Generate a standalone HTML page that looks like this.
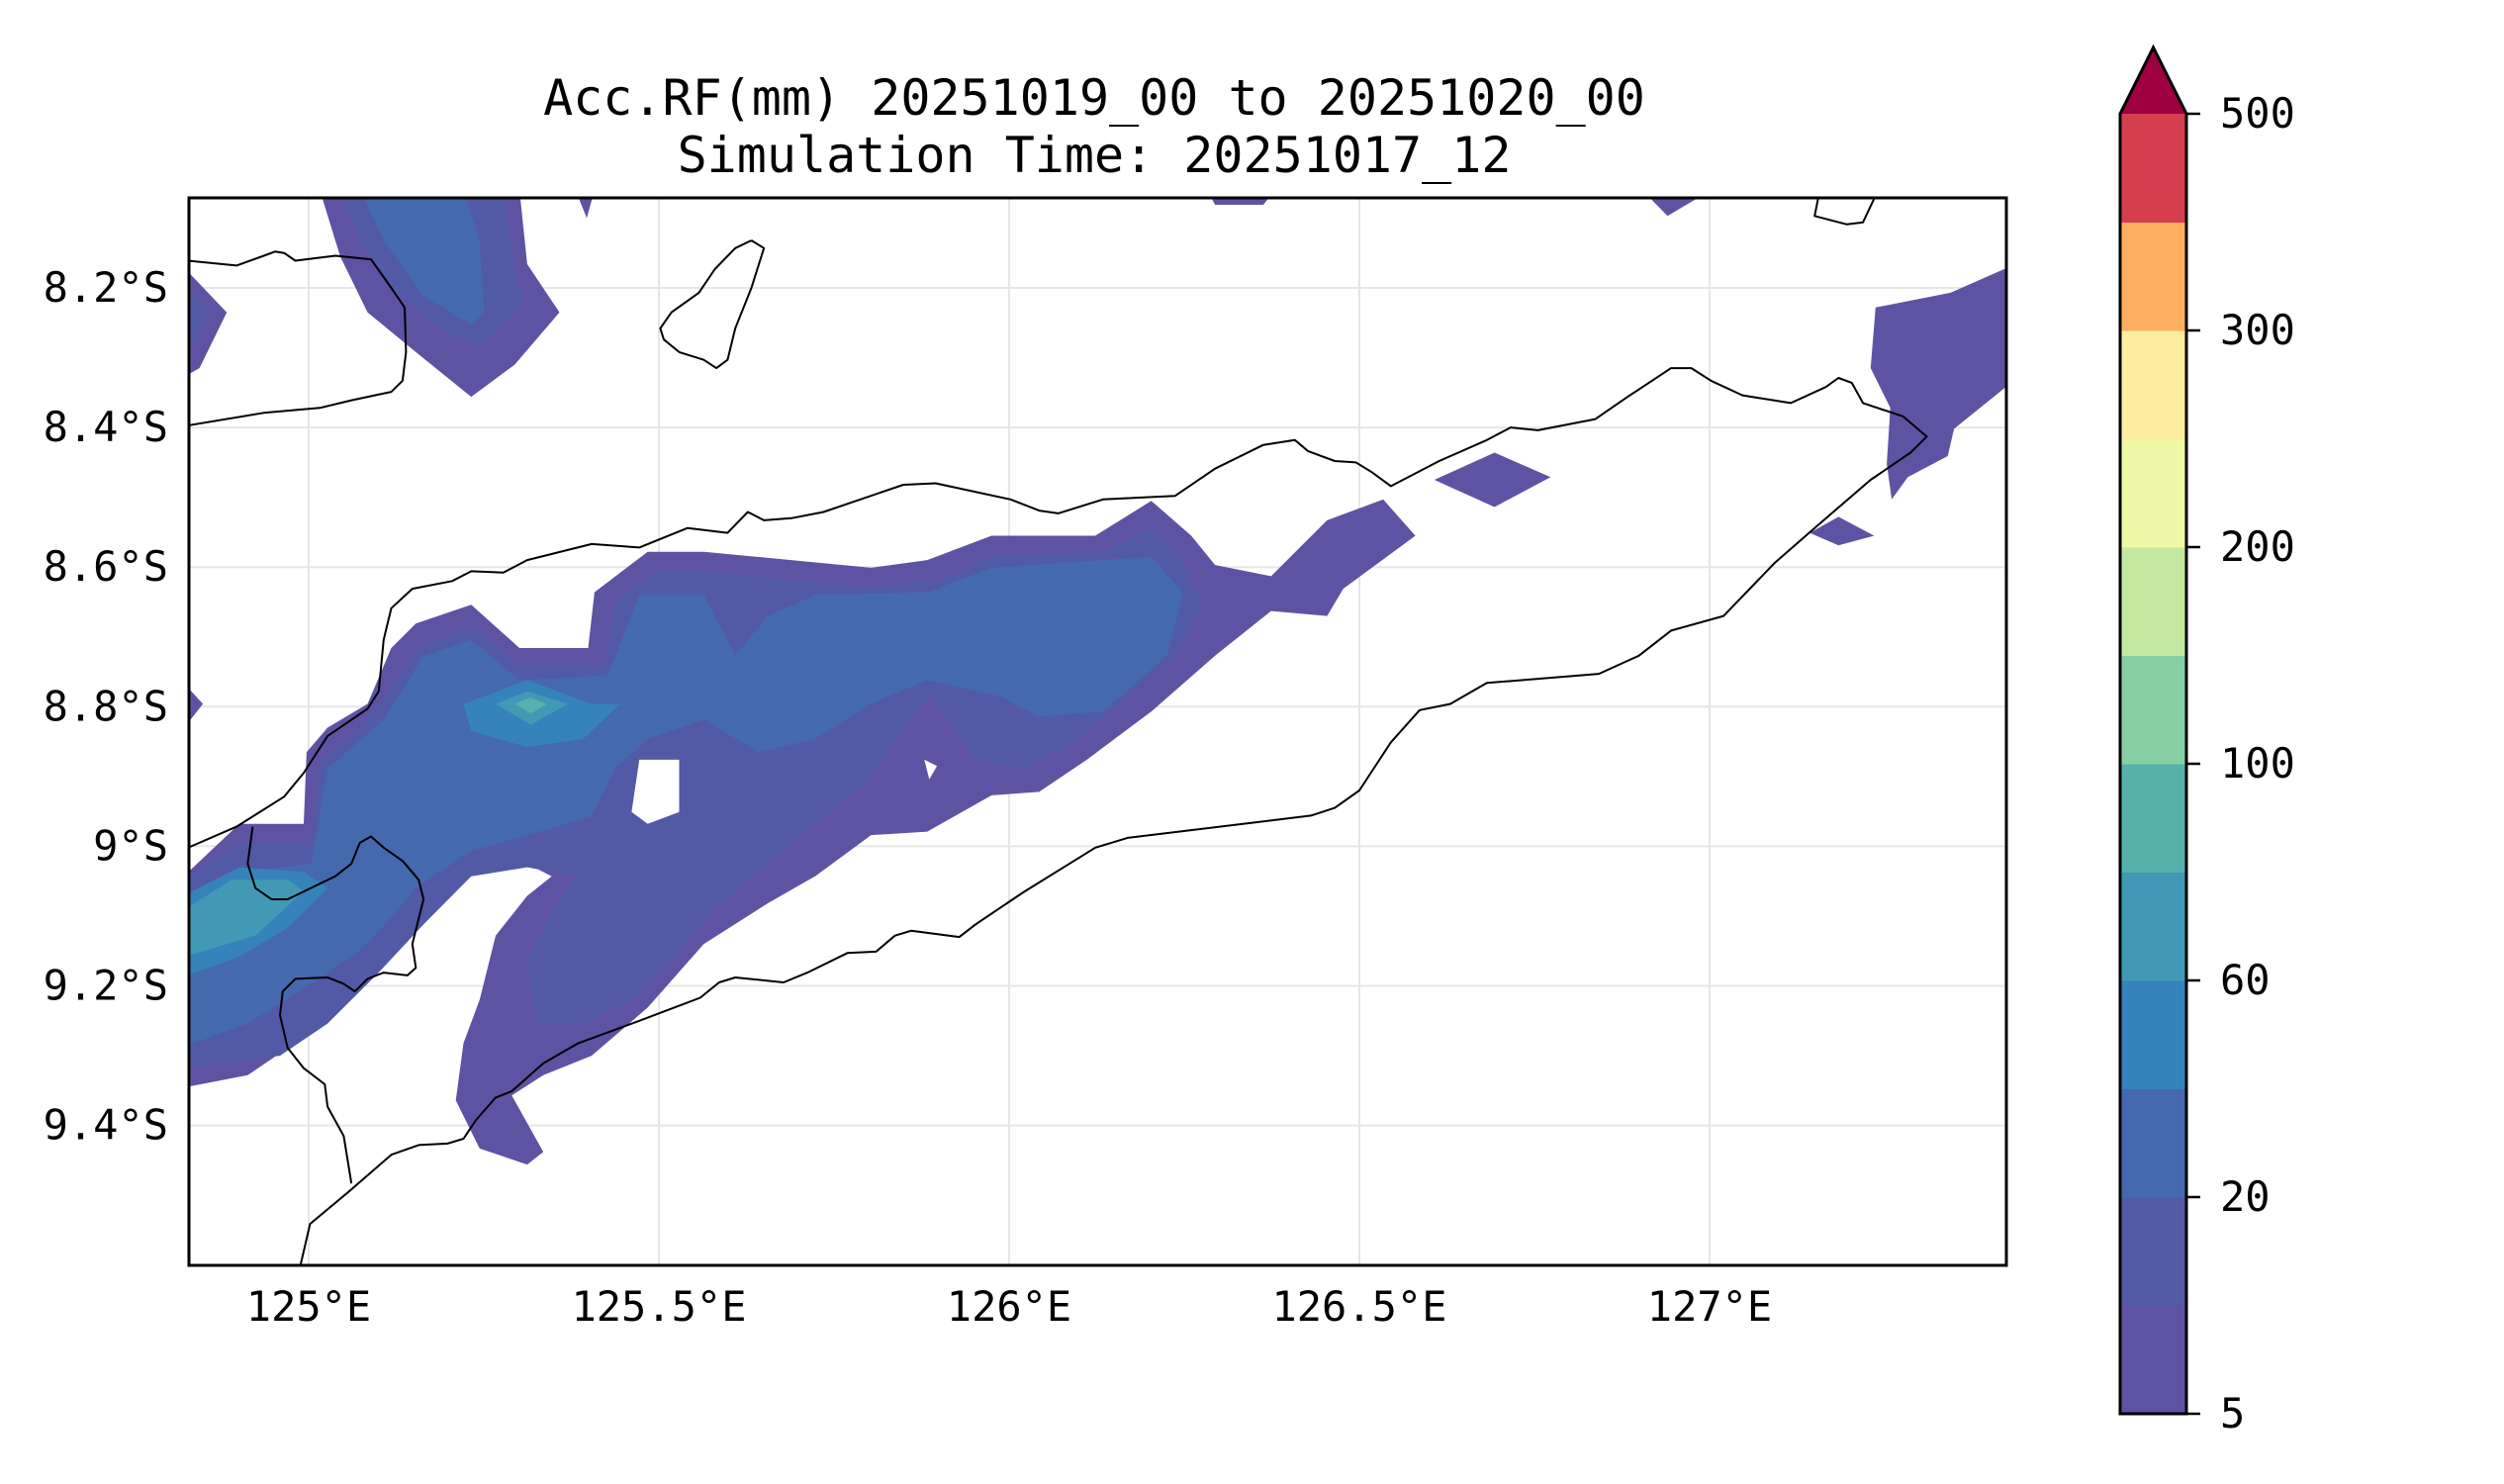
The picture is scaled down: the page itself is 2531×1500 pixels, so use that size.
<!DOCTYPE html>
<html><head><meta charset="utf-8">
<style>
html,body{margin:0;padding:0;background:#fff;}
svg{display:block;font-family:"DejaVu Sans Mono","Liberation Mono",monospace;}
</style></head>
<body>
<svg id="chart" width="2531" height="1500" viewBox="0 0 2531 1500" xmlns="http://www.w3.org/2000/svg">
<defs><clipPath id="plotclip"><rect x="191" y="200" width="1837" height="1079"/></clipPath></defs>
<text x="1106" y="116" font-size="50" text-anchor="middle">Acc.RF(mm) 20251019_00 to 20251020_00</text>
<text x="1106" y="174" font-size="50" text-anchor="middle">Simulation Time: 20251017_12</text>
<g id="grid"></g>
<g id="fills" clip-path="url(#plotclip)"></g>
<g id="coasts" clip-path="url(#plotclip)"></g>
<rect x="191" y="200" width="1837" height="1079" fill="none" stroke="#000" stroke-width="3"/>
<g id="xticks"></g>
<g id="yticks"></g>
<g id="cbar"></g>
</svg>
<script>
const lonTicks = [125, 125.5, 126, 126.5, 127];
const lonTickLabels = ["125°E","125.5°E","126°E","126.5°E","127°E"];
const latTicks = [8.2, 8.4, 8.6, 8.8, 9.0, 9.2, 9.4];
const latTickLabels = ["8.2°S","8.4°S","8.6°S","8.8°S","9°S","9.2°S","9.4°S"];
const cbarColors = ['#5e53a3','#5259a5','#4569ad','#3682ba','#4299b5','#57b0ac','#86cfa5','#c5e8a0','#eff8a6','#feeda1','#fdae61','#d53e4f'];
const cbarExtendColor = '#9e0142';
const cbarTickIndex = [0,2,4,6,8,10,12];
const cbarTickLabels = ["5","20","60","100","200","300","500"];

const level1Main = [[124.828,9.037],[124.901,8.968],[124.993,8.968],[124.997,8.865],[125.027,8.830],[125.084,8.796],[125.118,8.716],[125.153,8.681],[125.232,8.654],[125.301,8.716],[125.399,8.716],[125.408,8.636],[125.484,8.578],[125.564,8.578],[125.803,8.601],[125.883,8.590],[125.975,8.555],[126.123,8.555],[126.203,8.505],[126.260,8.555],[126.294,8.597],[126.374,8.613],[126.454,8.533],[126.534,8.503],[126.580,8.555],[126.477,8.631],[126.454,8.670],[126.374,8.663],[126.294,8.727],[126.203,8.807],[126.111,8.876],[126.043,8.922],[125.975,8.927],[125.883,8.979],[125.803,8.984],[125.723,9.043],[125.655,9.082],[125.564,9.140],[125.484,9.231],[125.404,9.300],[125.335,9.328],[125.290,9.357],[125.335,9.438],[125.312,9.456],[125.244,9.433],[125.210,9.364],[125.221,9.282],[125.244,9.220],[125.267,9.128],[125.312,9.071],[125.347,9.043],[125.312,9.025],[125.232,9.030],[125.175,9.082],[125.107,9.151],[125.050,9.208],[124.970,9.289],[124.913,9.328],[124.800,9.350],[124.800,9.040]];
const level2Main = [[124.800,9.060],[124.901,8.995],[125.004,8.995],[125.016,8.876],[125.073,8.830],[125.118,8.773],[125.157,8.716],[125.232,8.686],[125.301,8.739],[125.422,8.739],[125.438,8.647],[125.495,8.606],[125.564,8.606],[125.803,8.629],[125.906,8.617],[125.975,8.583],[126.134,8.578],[126.203,8.544],[126.248,8.590],[126.276,8.659],[126.237,8.727],[126.157,8.796],[126.089,8.853],[126.020,8.888],[125.952,8.876],[125.906,8.807],[125.883,8.785],[125.837,8.853],[125.792,8.911],[125.723,8.968],[125.655,9.025],[125.575,9.094],[125.518,9.163],[125.461,9.220],[125.392,9.254],[125.324,9.254],[125.312,9.163],[125.347,9.094],[125.381,9.043],[125.312,9.030],[125.232,9.043],[125.164,9.112],[125.096,9.185],[125.027,9.254],[124.959,9.300],[124.800,9.320]];
const level3Main = [[124.800,9.105],[124.901,9.037],[125.004,9.025],[125.027,8.888],[125.107,8.819],[125.164,8.727],[125.232,8.704],[125.301,8.762],[125.427,8.755],[125.472,8.640],[125.564,8.640],[125.609,8.727],[125.655,8.670],[125.723,8.640],[125.883,8.636],[125.975,8.601],[126.203,8.585],[126.248,8.636],[126.226,8.727],[126.134,8.807],[126.043,8.814],[125.986,8.785],[125.883,8.762],[125.803,8.796],[125.723,8.846],[125.643,8.865],[125.564,8.819],[125.484,8.846],[125.438,8.888],[125.404,8.957],[125.312,8.984],[125.232,9.007],[125.153,9.060],[125.084,9.140],[125.016,9.190],[124.913,9.254],[124.800,9.295]];
const level4A = [[125.221,8.796],[125.312,8.762],[125.404,8.796],[125.445,8.796],[125.392,8.846],[125.312,8.858],[125.232,8.835]];
const level4B = [[124.800,9.082],[124.901,9.030],[124.993,9.037],[125.027,9.060],[124.970,9.117],[124.901,9.158],[124.800,9.195]];
const level5A = [[125.267,8.796],[125.312,8.778],[125.370,8.796],[125.317,8.826]];
const level5B = [[124.800,9.105],[124.890,9.048],[124.970,9.048],[124.993,9.064],[124.924,9.128],[124.800,9.165]];
const level6A = [[125.294,8.796],[125.317,8.787],[125.340,8.796],[125.317,8.810]];
const hole1 = [[125.472,8.876],[125.529,8.876],[125.529,8.951],[125.484,8.968],[125.461,8.951]];
const hole2 = [[125.879,8.876],[125.897,8.885],[125.886,8.904]];
const tl1 = [[125.016,8.060],[125.301,8.060],[125.312,8.166],[125.358,8.235],[125.294,8.310],[125.232,8.356],[125.153,8.292],[125.084,8.235],[125.045,8.155]];
const tl2 = [[125.043,8.060],[125.278,8.060],[125.294,8.177],[125.308,8.223],[125.244,8.287],[125.187,8.258],[125.118,8.200],[125.073,8.132]];
const tl3 = [[125.073,8.060],[125.221,8.060],[125.244,8.132],[125.251,8.235],[125.232,8.253],[125.164,8.212],[125.107,8.132]];
const topSmall = [[125.381,8.060],[125.408,8.060],[125.397,8.100]];
const topMid = [[126.283,8.060],[126.379,8.060],[126.363,8.081],[126.294,8.081]];
const topRight = [[126.904,8.060],[127.002,8.060],[126.940,8.097]];
const left1 = [[124.800,8.150],[124.828,8.177],[124.883,8.235],[124.844,8.315],[124.800,8.340]];
const left1b = [[124.800,8.180],[124.830,8.200],[124.856,8.235],[124.830,8.292],[124.800,8.300]];
const left2 = [[124.800,8.760],[124.828,8.773],[124.849,8.796],[124.828,8.823],[124.800,8.835]];
const midRight = [[126.607,8.475],[126.693,8.436],[126.773,8.471],[126.693,8.514]];
const smallE = [[127.143,8.551],[127.184,8.528],[127.235,8.555],[127.184,8.569]];
const eastPatch = [[127.237,8.228],[127.344,8.207],[127.450,8.160],[127.450,8.320],[127.349,8.402],[127.340,8.441],[127.283,8.471],[127.260,8.503],[127.253,8.452],[127.258,8.372],[127.230,8.315]];
const fillPolys = [[0,level1Main],[1,level2Main],[2,level3Main],[3,level4A],[3,level4B],[4,level5A],[4,level5B],[5,level6A],[-1,hole1],[-1,hole2],[0,tl1],[1,tl2],[2,tl3],[0,topSmall],[0,topMid],[0,topRight],[0,left1],[1,left1b],[0,left2],[0,midRight],[0,smallE],[0,eastPatch]];

const coastMain = [[124.800,9.010],[124.828,9.002],[124.897,8.972],[124.965,8.929],[124.993,8.895],[125.027,8.842],[125.084,8.803],[125.100,8.778],[125.107,8.704],[125.118,8.659],[125.148,8.631],[125.205,8.620],[125.232,8.606],[125.278,8.608],[125.312,8.590],[125.404,8.567],[125.472,8.572],[125.541,8.544],[125.598,8.551],[125.627,8.521],[125.650,8.533],[125.689,8.530],[125.735,8.521],[125.849,8.482],[125.895,8.480],[126.002,8.503],[126.043,8.519],[126.070,8.523],[126.134,8.503],[126.237,8.498],[126.294,8.459],[126.363,8.425],[126.408,8.418],[126.427,8.434],[126.465,8.448],[126.495,8.450],[126.518,8.464],[126.545,8.484],[126.614,8.448],[126.682,8.418],[126.716,8.400],[126.755,8.404],[126.837,8.388],[126.883,8.356],[126.945,8.315],[126.974,8.315],[127.002,8.333],[127.047,8.354],[127.116,8.365],[127.166,8.342],[127.184,8.329],[127.203,8.336],[127.219,8.365],[127.276,8.384],[127.310,8.413],[127.287,8.436],[127.230,8.475],[127.150,8.544],[127.093,8.594],[127.020,8.670],[126.945,8.691],[126.899,8.727],[126.842,8.753],[126.682,8.766],[126.630,8.796],[126.586,8.805],[126.545,8.851],[126.500,8.920],[126.465,8.945],[126.431,8.956],[126.169,8.988],[126.123,9.002],[126.020,9.066],[125.952,9.112],[125.929,9.130],[125.860,9.121],[125.837,9.128],[125.810,9.151],[125.769,9.153],[125.712,9.181],[125.678,9.195],[125.609,9.188],[125.586,9.195],[125.559,9.217],[125.472,9.250],[125.385,9.282],[125.335,9.311],[125.290,9.351],[125.267,9.360],[125.239,9.392],[125.221,9.419],[125.198,9.426],[125.157,9.428],[125.118,9.442],[125.057,9.495],[125.002,9.541],[124.986,9.610]];
const coastInner = [[124.920,8.972],[124.913,9.025],[124.924,9.060],[124.947,9.076],[124.970,9.076],[125.038,9.043],[125.061,9.025],[125.073,8.995],[125.089,8.986],[125.107,9.002],[125.134,9.021],[125.157,9.048],[125.164,9.076],[125.148,9.140],[125.153,9.174],[125.141,9.185],[125.107,9.181],[125.084,9.190],[125.066,9.208],[125.050,9.197],[125.027,9.188],[124.981,9.190],[124.963,9.208],[124.959,9.242],[124.970,9.289],[124.993,9.318],[125.023,9.341],[125.027,9.373],[125.050,9.415],[125.061,9.483]];
const coastNW = [[124.800,8.160],[124.828,8.161],[124.897,8.168],[124.936,8.154],[124.952,8.148],[124.965,8.150],[124.981,8.161],[125.038,8.154],[125.089,8.159],[125.118,8.200],[125.137,8.228],[125.139,8.292],[125.134,8.333],[125.118,8.349],[125.061,8.361],[125.016,8.372],[124.936,8.379],[124.828,8.397],[124.800,8.402]];
const coastIsland = [[125.632,8.132],[125.650,8.143],[125.632,8.200],[125.609,8.258],[125.598,8.303],[125.582,8.315],[125.564,8.303],[125.529,8.292],[125.507,8.274],[125.502,8.258],[125.518,8.235],[125.557,8.207],[125.580,8.173],[125.609,8.143],[125.632,8.132]];
const coastNE = [[127.157,8.060],[127.155,8.072],[127.150,8.097],[127.196,8.109],[127.219,8.106],[127.235,8.072],[127.238,8.060]];
const coastLines = [coastMain, coastInner, coastNW, coastIsland, coastNE];

const NS='http://www.w3.org/2000/svg';
function xScale(lon){ return 312 + (lon-125)*708; }
function yScale(lat){ return 291 + (lat-8.2)*705.5; }
function mk(tag, attrs, parent){ const e=document.createElementNS(NS,tag); for(const k in attrs) e.setAttribute(k,attrs[k]); parent.appendChild(e); return e; }
function pts(arr){ return arr.map(p=>xScale(p[0]).toFixed(1)+','+yScale(p[1]).toFixed(1)).join(' '); }

const grid=document.getElementById('grid');
lonTicks.forEach(v=>{ const l=mk('line',{x1:xScale(v),x2:xScale(v),y1:200,y2:1279,stroke:'#e6e6e6','stroke-width':2},grid);

 });
latTicks.forEach(v=>{ const l=mk('line',{x1:191,x2:2028,y1:yScale(v),y2:yScale(v),stroke:'#e6e6e6','stroke-width':2},grid);

 });

const fills=document.getElementById('fills');
fillPolys.forEach(fp=>{ const col = fp[0]<0 ? '#ffffff' : cbarColors[fp[0]];
 const p=mk('polygon',{points:pts(fp[1]),fill:col},fills);
 
  });

const coasts=document.getElementById('coasts');
coastLines.forEach(c=>{ const p=mk('polyline',{points:pts(c),fill:'none',stroke:'#000','stroke-width':2,'stroke-linejoin':'round'},coasts);
 
  });

const xt=document.getElementById('xticks');
lonTicks.forEach((v,i)=>{ const t=mk('text',{x:xScale(v),y:1335,'font-size':42,'text-anchor':'middle'},xt); t.textContent=lonTickLabels[i];
 
  });
const yt=document.getElementById('yticks');
latTicks.forEach((v,i)=>{ const t=mk('text',{x:170,y:yScale(v)+14,'font-size':42,'text-anchor':'end'},yt); t.textContent=latTickLabels[i];
 
  });

const cb=document.getElementById('cbar');
const cbX0=2143, cbX1=2210, cbBottom=1429, seg=109.5;
function cbY(i){ return cbBottom - i*seg; }
cbarColors.forEach((c,i)=>{ const r=mk('rect',{x:cbX0,y:cbY(i+1),width:cbX1-cbX0,height:seg+0.5,fill:c},cb);
 
  });
const tri=mk('polygon',{points:cbX0+','+cbY(12)+' '+((cbX0+cbX1)/2)+',48 '+cbX1+','+cbY(12),fill:cbarExtendColor},cb);


const outline=mk('polygon',{points:cbX0+','+cbBottom+' '+cbX0+','+cbY(12)+' '+((cbX0+cbX1)/2)+',48 '+cbX1+','+cbY(12)+' '+cbX1+','+cbBottom,fill:'none',stroke:'#000','stroke-width':3},cb);


cbarTickIndex.forEach((ti,i)=>{ const y=cbY(ti);
 const l=mk('line',{x1:cbX1,x2:cbX1+14,y1:y,y2:y,stroke:'#000','stroke-width':2.5},cb);
 
 
 const t=mk('text',{x:2244,y:y+14,'font-size':42},cb); t.textContent=cbarTickLabels[i];
 
  });
</script>
</body></html>
